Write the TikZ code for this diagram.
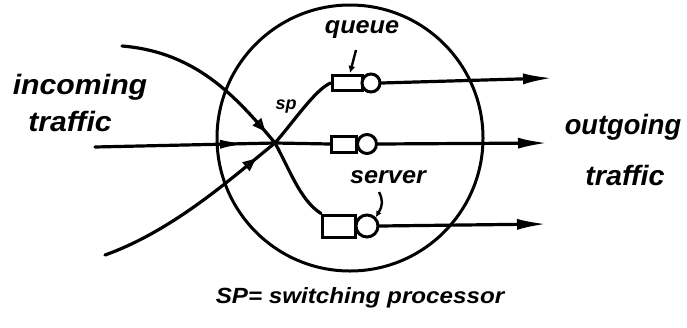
\documentclass[tikz,border=0pt]{standalone}
\usepackage{fontspec}
\setmainfont{Liberation Sans}
\usetikzlibrary{arrows.meta,decorations.markings}
\begin{document}
\begin{tikzpicture}[x=1pt,y=-1pt,
  ln/.style={line width=3.2pt,line cap=round,line join=round},
  outarr/.style={ln,-{Latex[length=30pt,width=11pt]}},
  lbl/.style={font=\bfseries\itshape\fontsize{28}{30}\selectfont,inner sep=0pt,xscale=1.08},
  midfill/.style={postaction={decorate},decoration={markings,mark=at position #1 with {\arrow{Latex[length=28pt,width=9pt]}}}},
  midopen/.style={postaction={decorate},decoration={markings,mark=at position #1 with {\arrow[line width=2.4pt]{Triangle[open,length=13pt,width=11pt]}}}},
  qbox/.style={draw,line width=3pt,rectangle,inner sep=0pt},
  srv/.style={draw,line width=3pt,circle,inner sep=0pt,fill=white}]
\useasboundingbox (0,0) rectangle (687,327);
% main circle
\node[draw,line width=3pt,circle,minimum size=266pt,inner sep=0pt] (ring) at (350,138) {};
\coordinate (sp) at (275,143);
% incoming
\coordinate (inA) at (122,46);
\coordinate (inB) at (95,147);
\coordinate (inC) at (105,255);
\draw[ln,midopen=0.92] (inA) .. controls (195,52) and (235,95) .. (sp);
\draw[ln,midfill=0.85] (inB) -- (sp);
\draw[ln,midopen=0.88] (inC) .. controls (175,230) and (235,175) .. (sp);
% queues and servers
\node[qbox,minimum width=30pt,minimum height=15pt] (q1) at (347,83) {};
\node[srv,minimum size=18pt] (s1) at (371,83) {};
\node[qbox,minimum width=25pt,minimum height=16pt] (q2) at (344,144) {};
\node[srv,minimum size=19pt] (s2) at (367,144) {};
\node[qbox,minimum width=33pt,minimum height=22pt] (q3) at (339,226) {};
\node[srv,minimum size=22pt] (s3) at (367,226) {};
% out connectors from SP
\draw[ln] (sp) .. controls (295,120) and (315,90) .. (q1.west);
\draw[ln] (sp) -- (q2.west);
\draw[ln] (sp) .. controls (290,170) and (300,200) .. (q3.north west);
% outgoing
\coordinate (o1) at (553,78);
\coordinate (o2) at (548,143);
\coordinate (o3) at (547,224);
\draw[outarr] (s1.east) -- (o1);
\draw[outarr] (s2.east) -- (o2);
\draw[outarr] (s3.east) -- (o3);
% labels
\node[lbl] (incoming) at (80,87) {incoming};
\node[lbl] (traffic1) at (70,121) {traffic};
\node[lbl,xscale=0.9] (outgoing) at (623,127) {outgoing};
\node[lbl,xscale=0.95] (traffic2) at (625,175) {traffic};
\node[font=\bfseries\itshape\fontsize{24}{26}\selectfont,inner sep=0pt,xscale=1.05] (queue) at (362,30) {queue};
\node[font=\bfseries\itshape\fontsize{24}{26}\selectfont,inner sep=0pt,xscale=1.05] (server) at (388,177) {server};
\node[font=\bfseries\itshape\fontsize{18}{20}\selectfont,inner sep=0pt] (splbl) at (286,107) {sp};
\node[font=\bfseries\itshape\fontsize{22}{24}\selectfont,inner sep=0pt,xscale=1.1] (caption) at (360,298) {SP= switching processor};
% pointers
\draw[line width=2.4pt,-{Latex[length=7pt,width=7pt]}] (356,50) -- (350,73);
\draw[line width=2.4pt,-{Latex[length=6pt,width=6pt]}] (379,192) .. controls (383,200) and (383,205) .. (s3.north east);
\end{tikzpicture}
\end{document}
